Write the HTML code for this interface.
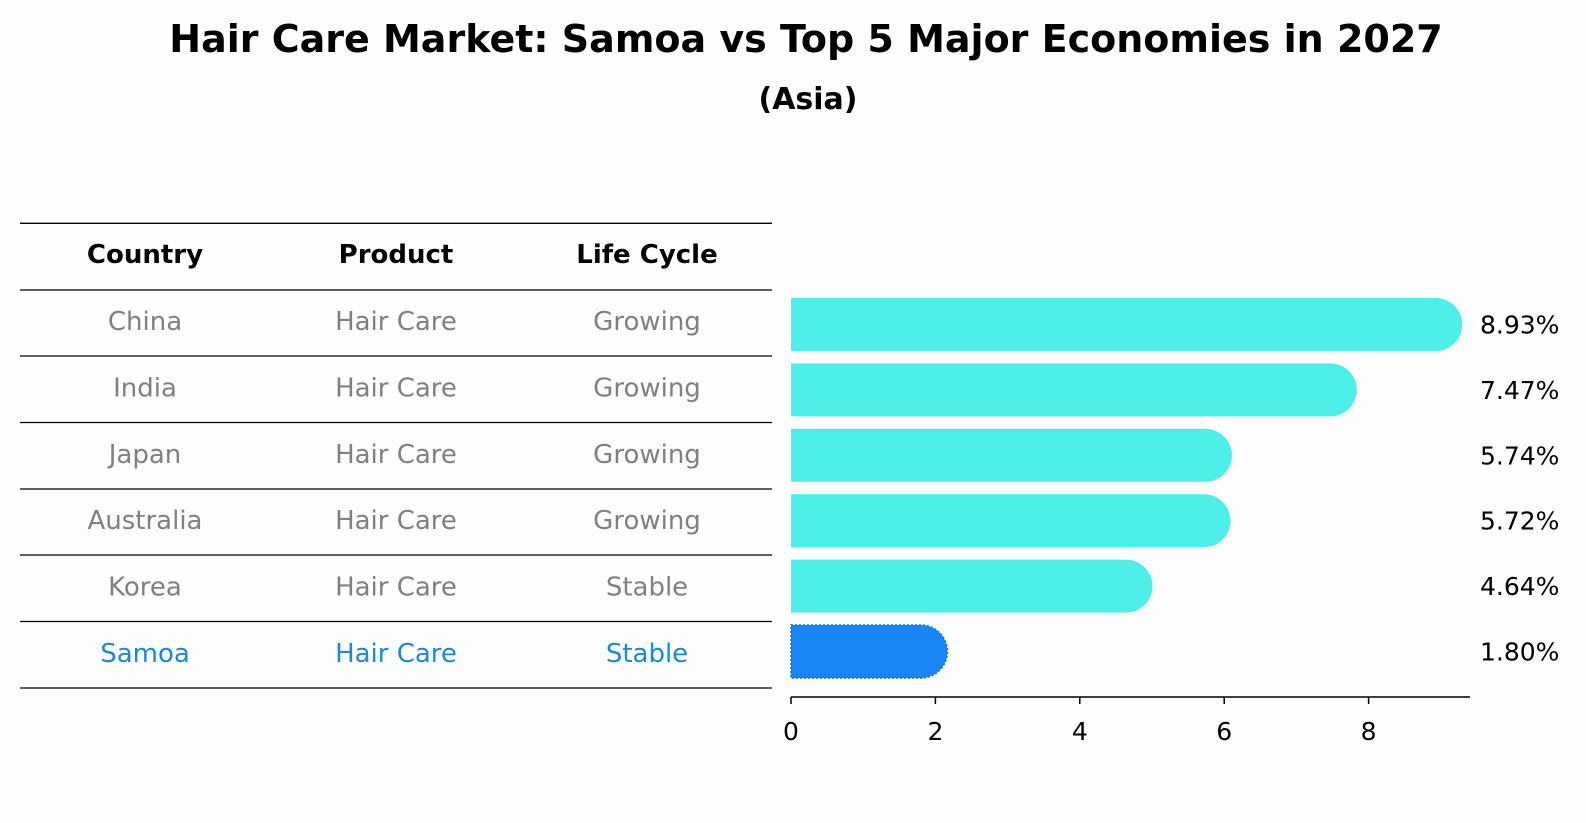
<!DOCTYPE html>
<html><head><meta charset="utf-8"><style>
html,body{margin:0;padding:0;background:#fdfdfd;}
svg{display:block;font-family:"DejaVu Sans","Liberation Sans",sans-serif;}
</style></head><body>
<svg id="chart" width="1586" height="823" viewBox="0 0 1586 823" xmlns="http://www.w3.org/2000/svg">
<rect width="1586" height="823" fill="#fdfdfd"/>
<text x="806" y="52" text-anchor="middle" font-size="38" font-weight="bold" fill="#000">Hair Care Market: Samoa vs Top 5 Major Economies in 2027</text>
<text x="808" y="109" text-anchor="middle" font-size="30" font-weight="bold" fill="#000">(Asia)</text>
<g id="table"></g>
<g id="bars"></g>
</svg>
<script>
const countries = ["China","India","Japan","Australia","Korea","Samoa"];
const products = ["Hair Care","Hair Care","Hair Care","Hair Care","Hair Care","Hair Care"];
const lifeCycles = ["Growing","Growing","Growing","Growing","Stable","Stable"];
const values = [8.93,7.47,5.74,5.72,4.64,1.80];
const valueLabels = ["8.93%","7.47%","5.74%","5.72%","4.64%","1.80%"];
const ticks = [0,2,4,6,8];
const headers = ["Country","Product","Life Cycle"];

const NS = "http://www.w3.org/2000/svg";
function mk(tag, attrs, parent){const e=document.createElementNS(NS,tag);for(const k in attrs)e.setAttribute(k,attrs[k]);parent.appendChild(e);return e;}

const x0 = 791, xs = 72.2;
const xScale = v => x0 + v*xs;
const rowC = i => 324.5 + i*65.4;
const barH = 53;

// table
const tbl = document.getElementById('table');
const lineYs = [223.3,290,356,422.5,489,555,621.5,688];
lineYs.forEach((y,i)=>{
  const l = mk('line',{x1:20,x2:772,y1:y,y2:y,stroke:'#000','stroke-width':1.3},tbl);
  
  
});
const colX = [145,396,647];
headers.forEach((h,j)=>{
  const t = mk('text',{x:colX[j],y:263,'text-anchor':'middle','font-size':26,'font-weight':'bold',fill:'#000'},tbl);
  t.textContent = h;
  
  
});
countries.forEach((c,i)=>{
  const cy = (lineYs[i+1]+lineYs[i+2])/2 + 7;
  const col = c==="Samoa" ? '#1a87e0' : '#808080';
  [c, products[i], lifeCycles[i]].forEach((txt,j)=>{
    const t = mk('text',{x:colX[j],y:cy,'text-anchor':'middle','font-size':26,fill:col},tbl);
    t.textContent = txt;
    
    
  });
});

// bars
const bg = document.getElementById('bars');
values.forEach((v,i)=>{
  const cy = rowC(i), r = barH/2, xe = xScale(v);
  const isS = countries[i]==="Samoa";
  const d = `M${x0},${cy-r} L${xe},${cy-r} A${r},${r} 0 0 1 ${xe},${cy+r} L${x0},${cy+r} Z`;
  const p = mk('path',{d:d,fill:isS?'#1a86f5':'#4eeee9'},bg);
  if(isS){p.setAttribute('stroke','#1570d8');p.setAttribute('stroke-width','1.5');p.setAttribute('stroke-dasharray','2 2');}
  
  
  const t = mk('text',{x:1480,y:cy+9,'font-size':25,fill:'#000'},bg);
  t.textContent = valueLabels[i];
  
  
});
const ax = mk('line',{x1:x0,x2:1470,y1:697,y2:697,stroke:'#000','stroke-width':1.5},bg);


ticks.forEach(tv=>{
  const x = xScale(tv);
  const tk = mk('line',{x1:x,x2:x,y1:697,y2:704,stroke:'#000','stroke-width':1.5},bg);
  
  
  const t = mk('text',{x:x,y:740,'text-anchor':'middle','font-size':25,fill:'#000'},bg);
  t.textContent = String(tv);
  
  
});
</script>
</body></html>
